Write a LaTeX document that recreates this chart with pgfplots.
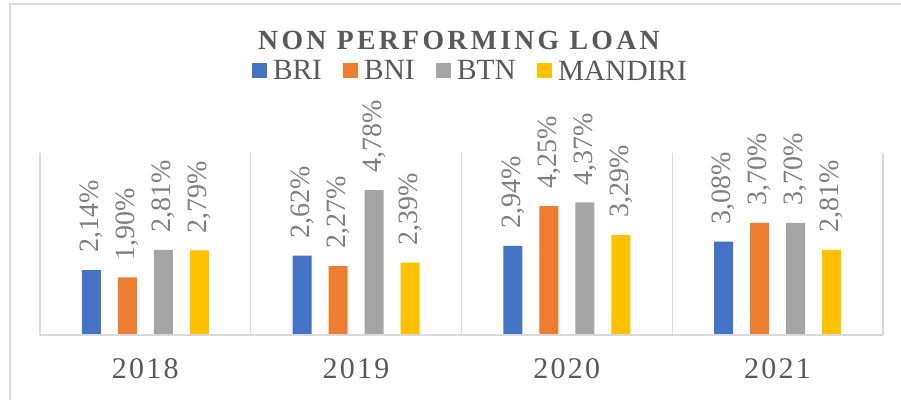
\documentclass[border=0pt]{standalone}
\usepackage{fontspec}
\setmainfont{Liberation Serif}
\newfontfamily\titlefont[LetterSpace=12]{Liberation Serif}
\newfontfamily\yearfont[LetterSpace=7.5]{Liberation Serif}
\usepackage{pgfplots}
\pgfplotsset{compat=1.18, /pgf/number format/assume math mode=true}

\definecolor{cBRI}{HTML}{4472C4}
\definecolor{cBNI}{HTML}{ED7D31}
\definecolor{cBTN}{HTML}{A5A5A5}
\definecolor{cMAN}{HTML}{FFC000}
\definecolor{linegray}{HTML}{D9D9D9}
\definecolor{titlegray}{HTML}{595959}
\definecolor{labelgray}{HTML}{7F7F7F}

\begin{document}
\begin{tikzpicture}
\path[use as bounding box] (-30pt,-48.75pt) rectangle (645.75pt,251.25pt);
\draw[linegray, line width=1.3pt] (-22.5pt,248.25pt) rectangle (700pt,-100pt);
\begin{axis}[
    at={(0pt,0pt)}, anchor=south west,
    width=632.25pt, height=136.5pt, scale only axis,
    xmin=-0.5, xmax=3.5, ymin=0, ymax=6,
    ybar=12.75pt, bar width=14.25pt,
    xtick={0,1,2,3},
    xticklabels={2018,2019,2020,2021},
    xticklabel style={font=\fontsize{22.5pt}{26pt}\yearfont, text=titlegray, inner sep=0pt, yshift=-17.25pt},
    minor xtick={-0.5,0.5,1.5,2.5,3.5},
    xminorgrids=true,
    minor grid style={linegray, line width=1pt},
    major tick length=0pt, minor tick length=0pt,
    ytick=\empty,
    axis line style={draw=none},
    clip=false,
    nodes near coords={\pgfmathprintnumber[fixed,fixed zerofill,precision=2,use comma]{\pgfplotspointmeta}\%},
    every node near coord/.append style={rotate=90, anchor=west, inner xsep=12.75pt, inner ysep=0pt,
        font=\fontsize{21pt}{24pt}\selectfont, text=labelgray},
    legend columns=4,
    legend image code/.code={\fill[#1] (0pt,-4.8pt) rectangle (11.25pt,6.45pt);},
    legend style={draw=none, fill=none, inner sep=0pt, outer sep=0pt,
        font=\fontsize{22pt}{24pt}\selectfont, text=titlegray,
        at={(axis description cs:0.2515,1.39)}, anchor=south west,
        nodes={inner sep=0pt},
        /tikz/every odd column/.append style={column sep=4.5pt},
        /tikz/every even column/.append style={column sep=16pt}},
]
\addplot[fill=cBRI, draw=none] coordinates {(0,2.14) (1,2.62) (2,2.94) (3,3.08)};
\addplot[fill=cBNI, draw=none] coordinates {(0,1.90) (1,2.27) (2,4.25) (3,3.70)};
\addplot[fill=cBTN, draw=none] coordinates {(0,2.81) (1,4.78) (2,4.37) (3,3.70)};
\addplot[fill=cMAN, draw=none] coordinates {(0,2.79) (1,2.39) (2,3.29) (3,2.81)};
\legend{BRI,BNI,BTN,MANDIRI}
\draw[linegray, line width=1pt] (axis cs:-0.5,0) -- (axis cs:3.5,0);
\node[anchor=base, font=\fontsize{20.8pt}{24pt}\titlefont\bfseries, text=titlegray, inner sep=0pt]
    at (axis description cs:0.497,1.566) {NON PERFORMING LOAN};
\end{axis}
\end{tikzpicture}
\end{document}
